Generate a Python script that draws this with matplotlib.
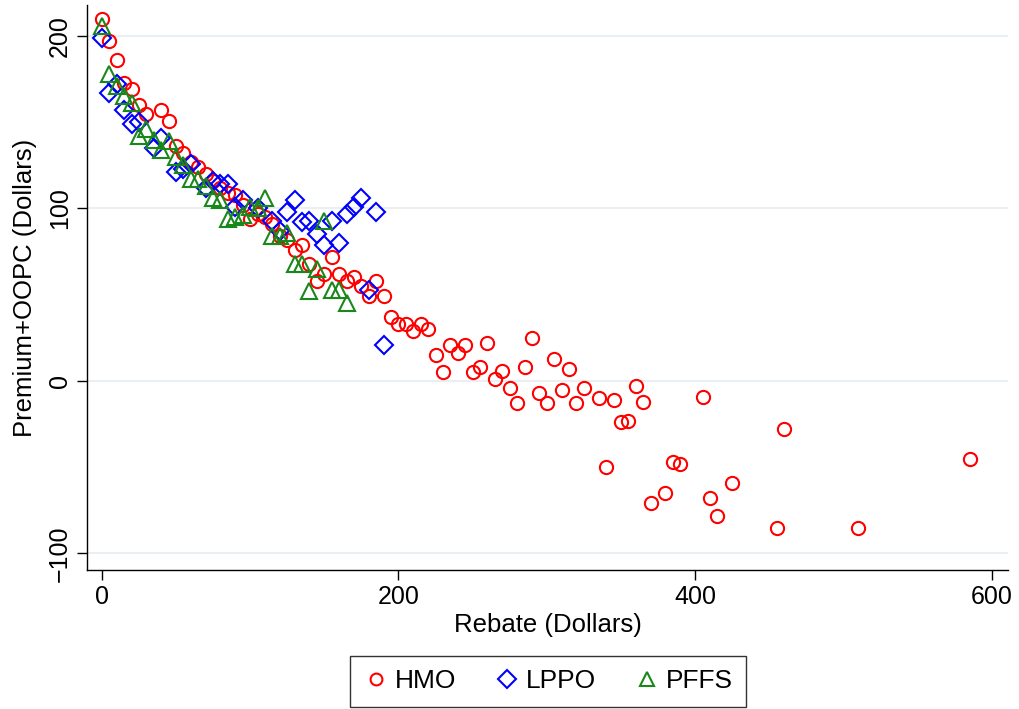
import matplotlib
matplotlib.use("Agg")
import matplotlib.pyplot as plt
from matplotlib.lines import Line2D

plt.rcParams['font.family'] = ['Liberation Sans', 'DejaVu Sans']

hmo_x = [0, 5, 10, 15, 20, 25, 30, 40, 45, 50, 55, 60, 65, 70, 75, 80, 85, 90, 95, 100,
         105, 110, 115, 120, 125, 130, 135, 140, 145, 150, 155, 160, 165, 170, 175, 180,
         185, 190, 195, 200, 205, 210, 215, 220, 225, 230, 235, 240, 245, 250, 255, 260,
         265, 270, 275, 280, 285, 290, 295, 300, 305, 310, 315, 320, 325, 335, 340, 345,
         350, 355, 360, 365, 370, 380, 385, 390, 405, 410, 415, 425, 455, 460, 510, 585]
hmo_y = [210, 197, 186, 173, 169, 160, 155, 157, 151, 136, 132, 127, 124, 120, 116, 112, 109, 108, 102, 94,
         97, 95, 91, 84, 82, 76, 79, 68, 58, 62, 72, 62, 58, 60, 55, 49,
         58, 49, 37, 33, 33, 29, 33, 30, 15, 5, 21, 16, 21, 5, 8, 22,
         1, 6, -4, -13, 8, 25, -7, -13, 13, -5, 7, -13, -4, -10, -50, -11,
         -24, -23, -3, -12, -71, -65, -47, -48, -9, -68, -78, -59, -85, -28, -85, -45]

lppo_x = [0, 5, 10, 15, 20, 25, 35, 40, 50, 55, 60, 70, 75, 80, 85, 90, 95, 105, 115, 120,
          125, 130, 135, 140, 145, 150, 155, 160, 165, 170, 175, 180, 185, 190]
lppo_y = [199, 167, 172, 157, 149, 150, 135, 141, 121, 123, 126, 112, 116, 114, 114, 101, 105, 100, 93, 87,
          98, 105, 92, 93, 85, 79, 93, 80, 97, 101, 106, 53, 98, 21]

pffs_x = [0, 5, 10, 15, 20, 25, 30, 35, 40, 45, 50, 55, 60, 65, 70, 75, 80, 85, 90, 95,
          100, 105, 110, 115, 120, 125, 130, 135, 140, 145, 150, 155, 160, 165]
pffs_y = [206, 178, 171, 165, 161, 142, 146, 140, 134, 139, 130, 125, 117, 117, 113, 106, 105, 94, 95, 96,
          101, 100, 106, 84, 84, 86, 68, 68, 52, 65, 93, 53, 53, 45]

labels = ["HMO", "LPPO", "PFFS"]
colors = ["#ff0000", "#0000ff", "#1a871a"]

fig = plt.figure(figsize=(10.2, 7.09), dpi=100)
ax = fig.add_axes([0.0853, 0.196, 0.903, 0.797])

ax.plot(hmo_x, hmo_y, linestyle='none', marker='o', markersize=9.5, markerfacecolor='none',
        markeredgecolor=colors[0], markeredgewidth=1.5, zorder=3)
ax.plot(lppo_x, lppo_y, linestyle='none', marker='D', markersize=9, markerfacecolor='none',
        markeredgecolor=colors[1], markeredgewidth=1.5, zorder=3)
ax.plot(pffs_x, pffs_y, linestyle='none', marker='^', markersize=11, markerfacecolor='none',
        markeredgecolor=colors[2], markeredgewidth=1.5, zorder=3)

ax.set_xlim(-10, 611)
ax.set_ylim(-109.6, 218)
ax.set_xticks([0, 200, 400, 600])
ax.set_yticks([-100, 0, 100, 200])
ax.set_yticklabels(["\u2212100", "0", "100", "200"], rotation=90, va='center')
ax.tick_params(axis='both', direction='out', length=7, width=1, labelsize=18, pad=4)
for s in ['top', 'right']:
    ax.spines[s].set_visible(False)
for s in ['left', 'bottom']:
    ax.spines[s].set_linewidth(1.0)
ax.yaxis.grid(True, color='#e9eff2', linewidth=1.5, zorder=0)
ax.set_axisbelow(True)

ax.set_xlabel("Rebate (Dollars)", fontsize=18.5, labelpad=3)
ax.set_ylabel("Premium+OOPC (Dollars)", fontsize=18.5, labelpad=8)

handles = [
    Line2D([], [], linestyle='none', marker='o', markersize=8.5, markerfacecolor='none',
           markeredgecolor=colors[0], markeredgewidth=1.5),
    Line2D([], [], linestyle='none', marker='D', markersize=9.5, markerfacecolor='none',
           markeredgecolor=colors[1], markeredgewidth=1.5),
    Line2D([], [], linestyle='none', marker='^', markersize=10, markerfacecolor='none',
           markeredgecolor=colors[2], markeredgewidth=1.5),
]
leg = fig.legend(handles, labels, loc='center', bbox_to_anchor=(0.537, 0.039), ncol=3,
                 fontsize=19, frameon=True, fancybox=False, edgecolor='black',
                 handletextpad=0.2, columnspacing=1.45, borderpad=0.5, handlelength=1.0,
                 borderaxespad=0)
leg.get_frame().set_linewidth(1.0)

fig.savefig("out.png", dpi=100)
